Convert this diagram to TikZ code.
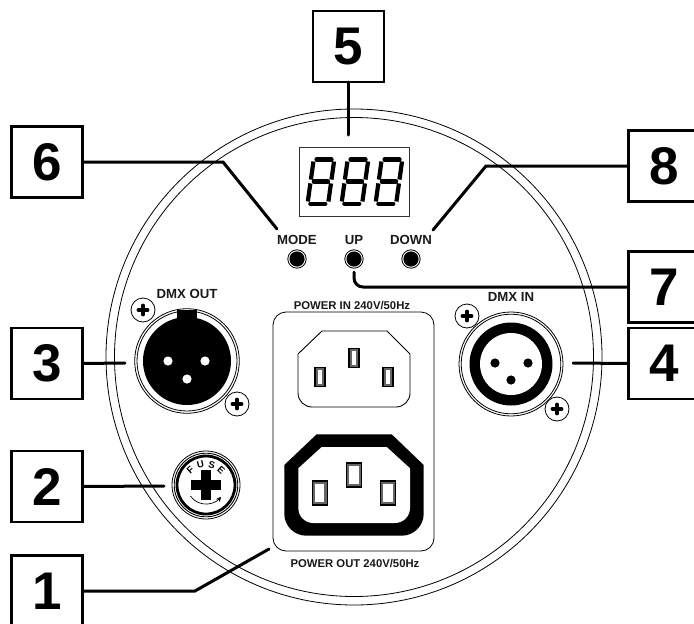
\documentclass[tikz,border=0pt]{standalone}
\usepackage{fontspec}
\setmainfont{Liberation Sans}
\usetikzlibrary{arrows.meta}
\tikzset{
  numbox/.style={draw=black,fill=white,line width=2.9pt,minimum width=71pt,minimum height=71pt,inner sep=0pt,outer sep=0pt,font=\fontsize{53}{53}\selectfont\bfseries},
  leader/.style={line width=3pt,draw=black,line cap=round,line join=miter},
  lbl/.style={font=\fontsize{13.2}{13}\selectfont\bfseries,inner sep=0pt,text=black!90,anchor=base},
  lblsmall/.style={font=\fontsize{11.3}{12}\selectfont\bfseries,inner sep=0pt,text=black!90,anchor=base},
  thin line/.style={line width=0.8pt,draw=black},
  fuselbl/.style={font=\fontsize{9.6}{10}\selectfont\bfseries,inner sep=0pt},
  seg/.style={line width=4.2pt,draw=black,line cap=butt}
}
\newcommand{\screwmark}[2]{%
  \draw[thin line,fill=white] (#1,#2) circle[radius=12pt];
  \draw[line width=3.6pt,line cap=round] (#1-4.6,#2) -- (#1+4.6,#2) (#1,#2-4.6) -- (#1,#2+4.6);
}
\newcommand{\iecpin}[4]{%
  \filldraw[fill=black!60,draw=black,line width=1.1pt] (#1-#3/2,#2-#4/2) rectangle (#1+#3/2,#2+#4/2);
  \fill[white] (#1-#3/2+2.8,#2-#4/2+2.8) rectangle (#1+#3/2-2.8,#2+#4/2-2.8);
}
\newcommand{\segdigit}[1]{%
  \begin{scope}[shift={(#1,206)},xslant=0.14]
    \draw[seg,line cap=round] (5,-46.6) -- (20,-46.6) (5.4,-24.5) -- (19.6,-24.5) (5,-2.4) -- (20,-2.4);
    \draw[seg] (2.2,-4.5) -- (2.2,-22.6) (22.8,-4.5) -- (22.8,-22.6) (2.2,-26.4) -- (2.2,-44.5) (22.8,-26.4) -- (22.8,-44.5);
  \end{scope}
}
\newcommand{\buttonmark}[2]{%
  \draw[thin line,fill=white] (#1,#2) circle[radius=9.2pt];
  \fill[black] (#1,#2) circle[radius=7.6pt];
}
\begin{document}
\begin{tikzpicture}[x=1pt,y=-1pt]
\useasboundingbox (0,0) rectangle (694,624);
\clip (0,0) rectangle (694,624);
\fill[white] (0,0) rectangle (694,624);

% housing
\draw[thin line] (354,357) circle[radius=248pt];
\draw[thin line] (354,357) circle[radius=239.5pt];

% display
\draw[line width=0.9pt,draw=black!80] (299,147) rectangle (409,216);
\segdigit{305}
\segdigit{339}
\segdigit{373}

% buttons
\buttonmark{297}{259}
\buttonmark{354}{259}
\buttonmark{411}{259}
\node[lbl] (mode) at (297,244) {MODE};
\node[lbl] (up) at (354,244) {UP};
\node[lbl] (down) at (411,244) {DOWN};

% DMX out
\draw[thin line] (187,361) circle[radius=52.3pt];
\draw[thin line] (187,361) circle[radius=50pt];
\fill[black] (187,361) circle[radius=44pt];
\fill[black] (177,309.5) rectangle (197,325);
\foreach \px/\py in {168/361,205/361,187/379} \fill[white] (\px,\py) circle[radius=4.6pt];
\screwmark{143}{310}
\screwmark{237}{404}
\node[lbl] (dmxout) at (187,298) {DMX OUT};

% DMX in
\draw[thin line] (511,364) circle[radius=52pt];
\draw[thin line] (511,364) circle[radius=49.8pt];
\fill[black] (511,364) circle[radius=41.5pt];
\fill[white] (511,364) circle[radius=31pt];
\foreach \px/\py in {495/363,528/363,511/380} \fill[black] (\px,\py) circle[radius=4.6pt];
\screwmark{467}{316}
\screwmark{557}{409}
\node[lbl] (dmxin) at (511,301) {DMX IN};

% fuse
\draw[thin line] (206,485) circle[radius=34pt];
\draw[line width=2.8pt] (206,485) circle[radius=29pt];
\draw[line width=0.9pt] (206,485) circle[radius=31.8pt];
\fill[black] (201,470) rectangle (211,500);
\fill[black] (191,480) rectangle (221,490);
\node[fuselbl,rotate=42] (fusef) at (190.4,469.6) {F};
\node[fuselbl,rotate=14] (fuseu) at (200.5,464.6) {U};
\node[fuselbl,rotate=-14] (fuses) at (211.8,464.8) {S};
\node[fuselbl,rotate=-42] (fusee) at (221.2,470) {E};
\draw[line width=0.7pt,-{Stealth[length=5pt,width=5pt]}] (190.4,496) arc[start angle=215,end angle=322,radius=19pt];

% power panel
\draw[thin line,rounded corners=13pt] (273,312) rectangle (434,551);
\node[lblsmall] (pwrin) at (352,309) {POWER IN 240V/50Hz};
\node[lblsmall] (pwrout) at (355,567.5) {POWER OUT 240V/50Hz};
\draw[line width=0.9pt] (298,380) -- (298,354) -- (322,331) -- (387,331) -- (410,354) [rounded corners=14pt] -- (410,407) -- (298,407) -- cycle;
\iecpin{354}{358}{10}{19}
\iecpin{320}{377}{10}{19}
\iecpin{388}{377}{10}{19}
\fill[black] (284.3,490) -- (284.3,465) -- (316.7,434.3) -- (391.7,434.3) -- (423.7,465) [rounded corners=22pt] -- (423.7,535.7) -- (284.3,535.7) -- cycle;
\fill[white] (298.3,490) -- (298.3,468.3) -- (321.7,447) -- (386.7,447) -- (410,468.3) [rounded corners=15pt] -- (410,523) -- (298.3,523) -- cycle;
\iecpin{354}{475}{15}{24}
\iecpin{319.7}{493}{15}{24}
\iecpin{388}{493}{15}{24}

% leader ends
\coordinate (e5) at (348.5,135);
\coordinate (k6) at (223,162);
\coordinate (e6) at (277,229);
\coordinate (k8) at (486,166);
\coordinate (e8) at (433,230);
\coordinate (k7) at (354,287);
\coordinate (e7) at (354,272);
\coordinate (e4) at (573,363);
\coordinate (e3) at (125,363);
\coordinate (e2) at (164,486);
\coordinate (k1) at (195,591);
\coordinate (e1) at (269,549);

% number boxes
\node[numbox] (b5) at (348.5,46.5) {5};
\node[numbox] (b6) at (47,162) {6};
\node[numbox] (b8) at (664,166) {8};
\node[numbox] (b7) at (664,287) {7};
\node[numbox] (b4) at (664,363.5) {4};
\node[numbox] (b3) at (47,363.5) {3};
\node[numbox] (b2) at (47,486.5) {2};
\node[numbox] (b1) at (47,591) {1};

% leaders
\draw[leader] (b5.south) -- (e5);
\draw[leader] (b6.east) -- (k6) -- (e6);
\draw[leader] (b8.west) -- (k8) -- (e8);
\draw[leader,rounded corners=9pt] (b7.west) -- (k7) -- (e7);
\draw[leader] (b4.west) -- (e4);
\draw[leader] (b3.east) -- (e3);
\draw[leader] (b2.east) -- (e2);
\draw[leader] (b1.east) -- (k1) -- (e1);
\end{tikzpicture}
\end{document}
